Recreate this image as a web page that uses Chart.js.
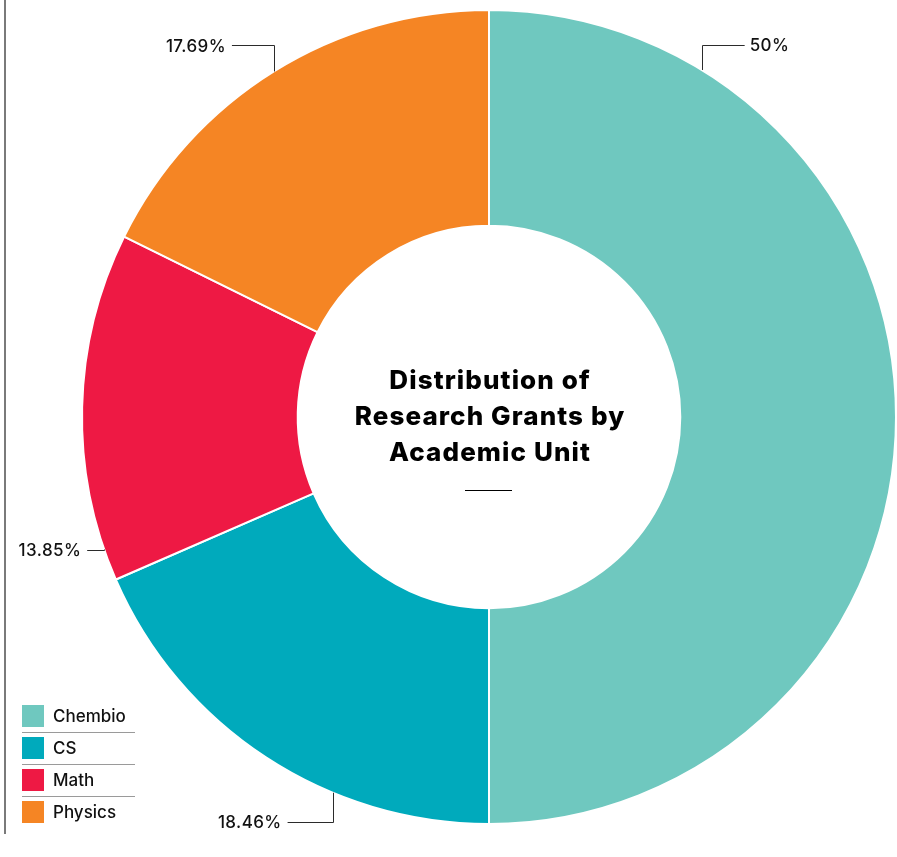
<!DOCTYPE html>
<html>
<head>
<meta charset="utf-8">
<script src="https://cdn.jsdelivr.net/npm/chart.js@4/dist/chart.umd.min.js"></script>
<style>
  html, body { margin: 0; padding: 0; background: #fff; }
  #wrap { position: relative; width: 897px; height: 857px; }
  #sideRule { position: absolute; left: 4px; top: 0; width: 2px; height: 834px; background: #7a7a7a; }
</style>
</head>
<body>
<div id="wrap">
  <div id="sideRule"></div>
  <canvas id="grantsChart" width="897" height="857"></canvas>
</div>
<script>
// Datos
const units = ['Chembio', 'CS', 'Math', 'Physics'];
const grants = [65, 24, 18, 23];
const unitColors = ['#6fc8bf', '#00aabc', '#ee1944', '#f58524'];
const titleLines = ['Distribution of', 'Research Grants by', 'Academic Unit'];

const FONT = 'Inter, "DejaVu Sans", sans-serif';

function percentLabel(value, data) {
    const total = data.reduce((a, b) => a + b, 0);
    return parseFloat((value / total * 100).toFixed(2)) + '%';
}

// Etiquetas con línea en codo (ángulo desde arriba, subida, tramo horizontal)
const leaderPlugin = {
    id: 'leaders',
    afterDatasetsDraw(chart, args, opts) {
        const ctx = chart.ctx;
        const meta = chart.getDatasetMeta(0);
        const data = chart.data.datasets[0].data;
        meta.data.forEach((arc, i) => {
            const l = opts.items[i];
            if (!l) return;
            const a = l.angle * Math.PI / 180;
            const px = arc.x + arc.outerRadius * Math.sin(a);
            const py = arc.y - arc.outerRadius * Math.cos(a);
            const ey = py + l.rise;
            const ex = px + l.run;
            ctx.save();
            ctx.strokeStyle = '#2b2b2b';
            ctx.lineWidth = 1;
            ctx.beginPath();
            ctx.moveTo(Math.round(px) + 0.5, py);
            ctx.lineTo(Math.round(px) + 0.5, Math.round(ey) + 0.5);
            ctx.lineTo(ex, Math.round(ey) + 0.5);
            ctx.stroke();
            ctx.fillStyle = '#111';
            ctx.font = '500 17px ' + FONT;
            ctx.letterSpacing = '0.4px';
            ctx.textBaseline = 'middle';
            ctx.textAlign = l.run >= 0 ? 'left' : 'right';
            ctx.fillText(percentLabel(data[i], data), ex + (l.run >= 0 ? 5 : -6), ey + 1);
            ctx.restore();
        });
    }
};

// Título en el centro del anillo
const centerTitlePlugin = {
    id: 'centerTitle',
    afterDraw(chart) {
        const arc = chart.getDatasetMeta(0).data[0];
        if (!arc) return;
        const ctx = chart.ctx;
        ctx.save();
        ctx.fillStyle = '#000';
        ctx.font = '800 26px ' + FONT;
        ctx.letterSpacing = '1.1px';
        ctx.textAlign = 'center';
        ctx.textBaseline = 'middle';
        titleLines.forEach((t, i) => {
            ctx.fillText(t, arc.x + 1, arc.y - 36 + i * 36);
        });
        ctx.strokeStyle = '#000';
        ctx.lineWidth = 1;
        ctx.beginPath();
        ctx.moveTo(arc.x - 24, arc.y + 73.5);
        ctx.lineTo(arc.x + 23, arc.y + 73.5);
        ctx.stroke();
        ctx.restore();
    }
};

// Leyenda abajo a la izquierda con separadores
const boxLegendPlugin = {
    id: 'boxLegend',
    afterDraw(chart, args, opts) {
        const ctx = chart.ctx;
        const colors = chart.data.datasets[0].backgroundColor;
        ctx.save();
        chart.data.labels.forEach((label, i) => {
            const y = opts.top + i * opts.step;
            ctx.fillStyle = colors[i];
            ctx.fillRect(opts.left, y, 22, 22);
            ctx.fillStyle = '#111';
            ctx.font = '500 17px ' + FONT;
            ctx.textBaseline = 'middle';
            ctx.textAlign = 'left';
            ctx.fillText(label, opts.left + 31, y + 12);
            if (i < chart.data.labels.length - 1) {
                ctx.strokeStyle = '#9a9a9a';
                ctx.lineWidth = 1;
                ctx.beginPath();
                ctx.moveTo(opts.left, y + 27.5);
                ctx.lineTo(opts.left + 113, y + 27.5);
                ctx.stroke();
            }
        });
        ctx.restore();
    }
};

new Chart(document.getElementById('grantsChart'), {
    type: 'doughnut',
    data: {
        labels: units,
        datasets: [{
            data: grants,
            backgroundColor: unitColors,
            borderColor: '#ffffff',
            borderWidth: 2,
            hoverOffset: 0
        }]
    },
    options: {
        responsive: false,
        animation: false,
        cutout: '47%',
        layout: { padding: { left: 81, right: 0, top: 9, bottom: 32 } },
        plugins: {
            legend: { display: false },
            tooltip: { enabled: false },
            leaders: {
                items: [
                    { angle: 31.5, rise: -25, run: 43 },
                    { angle: 202.6, rise: 29, run: -45 },
                    { angle: 251, rise: 0, run: -17 },
                    { angle: -31.9, rise: -26, run: -42 }
                ]
            },
            boxLegend: { left: 22, top: 705, step: 32 }
        }
    },
    plugins: [leaderPlugin, centerTitlePlugin, boxLegendPlugin]
});
</script>
</body>
</html>
